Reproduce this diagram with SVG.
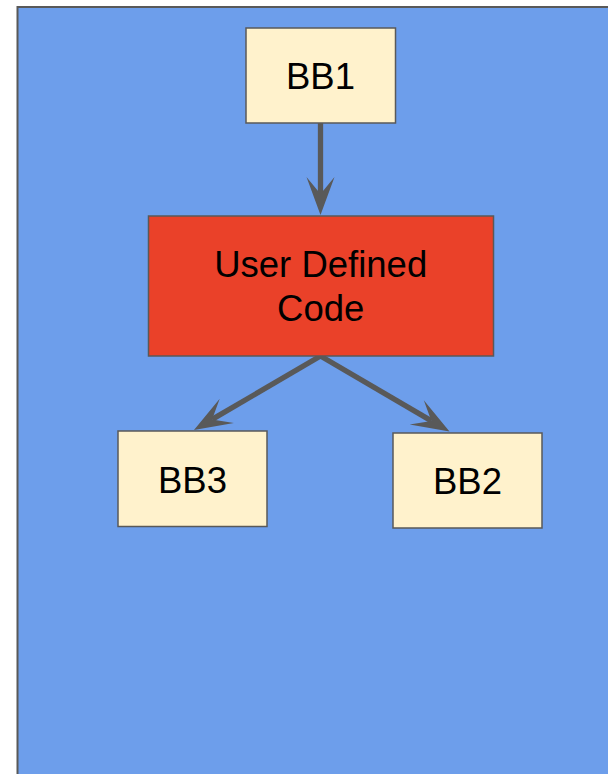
<svg xmlns="http://www.w3.org/2000/svg" width="608" height="774" viewBox="0 0 608 774">
<style>
.bb{fill:#fff2cc;stroke:#595959;stroke-width:1.5}
.red{fill:#ea4129;stroke:#595959;stroke-width:1.5}
.t{font-family:"Liberation Sans",Arial,sans-serif;font-size:36.5px;fill:#000;text-anchor:middle}
.c{fill:none;stroke:#595959;stroke-width:5.3}
</style>
<defs>
<marker id="ah" markerUnits="userSpaceOnUse" viewBox="-20 -16 42 32" refX="0" refY="0" markerWidth="42" markerHeight="32" orient="auto">
<path d="M21,0 L-17,-14 L0,0 L-17,14 Z" fill="#595959"/>
</marker>
</defs>
<rect width="608" height="774" fill="#ffffff"/>
<rect id="frame" x="17.5" y="7" width="600" height="780" fill="#6d9eeb" stroke="#595959" stroke-width="2"/>
<g id="connectors">
<line class="c" x1="320.5" y1="123" x2="320.5" y2="194" marker-end="url(#ah)"/>
<line class="c" x1="320.5" y1="356" x2="212.1" y2="419.4" marker-end="url(#ah)"/>
<line class="c" x1="320.5" y1="356" x2="431.4" y2="420.9" marker-end="url(#ah)"/>
</g>
<g id="bb1">
<rect class="bb" x="246" y="28" width="149.5" height="95"/>
<text class="t" x="320.5" y="89">BB1</text>
</g>
<g id="user-defined-code">
<rect class="red" x="148.5" y="216" width="345" height="140"/>
<text class="t" x="320.7" y="277">User Defined</text>
<text class="t" x="320.7" y="321">Code</text>
</g>
<g id="bb3">
<rect class="bb" x="118" y="431" width="149" height="95.5"/>
<text class="t" x="192.5" y="493">BB3</text>
</g>
<g id="bb2">
<rect class="bb" x="393" y="433" width="149" height="95"/>
<text class="t" x="467.5" y="494">BB2</text>
</g>
</svg>
